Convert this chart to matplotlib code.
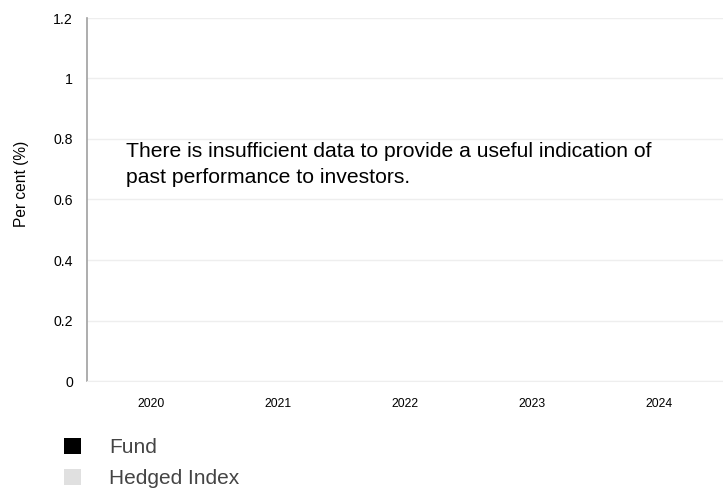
import numpy as np
import matplotlib.pyplot as plt

plt.rcParams["font.family"] = ["Liberation Sans", "DejaVu Sans"]

# Data (no performance data available)
years = ["2020", "2021", "2022", "2023", "2024"]
fund = [np.nan, np.nan, np.nan, np.nan, np.nan]
hedged_index = [np.nan, np.nan, np.nan, np.nan, np.nan]
y_ticks = [0, 0.2, 0.4, 0.6, 0.8, 1, 1.2]
y_tick_labels = ["0", "0.2", "0.4", "0.6", "0.8", "1", "1.2"]
message = ("There is insufficient data to provide a useful indication of\n"
           "past performance to investors.")

fig = plt.figure(figsize=(7.23, 4.9), dpi=100)
ax = fig.add_axes([87 / 723, 1 - 381 / 490, (723 - 87) / 723, (381 - 18) / 490])

x = np.arange(len(years))
w = 0.35
b1 = ax.bar(x - w / 2, fund, w, color="#000000", label="Fund")
b2 = ax.bar(x + w / 2, hedged_index, w, color="#e0e0e0", label="Hedged Index")

ax.set_xlim(-0.5, 4.5)
ax.set_ylim(0, 1.2)
ax.set_yticks(y_ticks)
ax.set_yticklabels(y_tick_labels)
ax.set_xticks(x)
ax.set_xticklabels(years)
ax.tick_params(axis="both", length=0, colors="#000000")
ax.tick_params(axis="y", pad=10, labelsize=10.2)
ax.tick_params(axis="x", pad=12, labelsize=8.7)

ax.grid(axis="y", color="#eeeeee", linewidth=1)
ax.set_axisbelow(True)
for side in ["top", "right"]:
    ax.spines[side].set_visible(False)
ax.spines["bottom"].set_color("#eeeeee")
ax.spines["left"].set_color("#a0a0a0")
ax.spines["left"].set_linewidth(1.2)

fig.text(22 / 723, 1 - 184 / 490, "Per cent (%)", rotation=90,
         ha="center", va="center", fontsize=11.2)

# message, one line at a time (baselines 26 px apart)
for i, line in enumerate(message.split("\n")):
    fig.text(126 / 723, 1 - (157 + 26 * i) / 490, line,
             ha="left", va="baseline", fontsize=15.2)

fig.legend(handles=[b1, b2], loc="upper left",
           bbox_to_anchor=(64 / 723, 1 - 438 / 490),
           frameon=False, fontsize=15, labelcolor="#444444",
           handlelength=0.82, handleheight=0.82, handletextpad=1.35,
           labelspacing=0.55, borderpad=0, borderaxespad=0)

plt.savefig("out.png", dpi=100)
